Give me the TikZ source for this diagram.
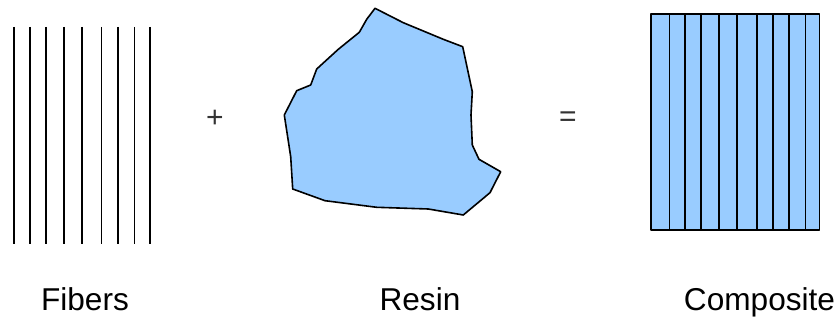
\documentclass[tikz,border=0pt]{standalone}
\usepackage{fontspec}
\setmainfont{Liberation Sans}
\usepackage{xcolor}
\definecolor{cResin}{HTML}{99CCFF}
\definecolor{cOp}{HTML}{333333}
\usepackage{tikz}
\usetikzlibrary{positioning,calc}
\tikzset{
  fiber-line/.style={draw=black,line width=1.6pt},
  resin-fill/.style={draw=black,line width=1.6pt,fill=cResin,line join=round},
  node-label/.style={font=\fontsize{31.6}{36}\selectfont,anchor=base,inner sep=0pt},
  node-op/.style={font=\fontsize{30}{36}\selectfont,text=cOp,inner sep=0pt},
}

\begin{document}
\begin{tikzpicture}[x=1pt,y=-1pt]
  \useasboundingbox (0,0) rectangle (839,320);
  % fibers
  \foreach \fx in {14,30,46,63.7,82,101.3,117.7,134.3,150}
    \draw[fiber-line] (\fx,27) -- (\fx,244);
  \node[node-op] (plus) at (215,119) {+};
  % resin
  \draw[resin-fill] (375,8.3) -- (403.3,22.7) -- (443.3,39.3) -- (462.7,46.7)
    -- (472.3,91.7) -- (471,115) -- (472.3,145) -- (479,159.3) -- (500.7,171.7)
    -- (490,192.7) -- (463.3,215) -- (428.3,209) -- (376.7,207.3) -- (325,200.7)
    -- (292.7,189) -- (290.7,156.7) -- (284.3,115) -- (296.7,90.7) -- (310.7,85)
    -- (316.7,69) -- (338.3,49.3) -- (359.3,32.3) -- (366.7,19.3) -- cycle;
  \node[node-op] (eq) at (568,119) {=};
  % composite
  \draw[resin-fill] (651,14) rectangle (819.3,230);
  \foreach \cx in {669.3,685,701,718.7,737,756.7,772.7,789,805.3}
    \draw[fiber-line] (\cx,14) -- (\cx,230);
  \node[node-label] (fib) at (85,311) {Fibers};
  \node[node-label] (res) at (420,311) {Resin};
  \node[node-label] (comp) at (759.5,311) {Composite};
\end{tikzpicture}
\end{document}
